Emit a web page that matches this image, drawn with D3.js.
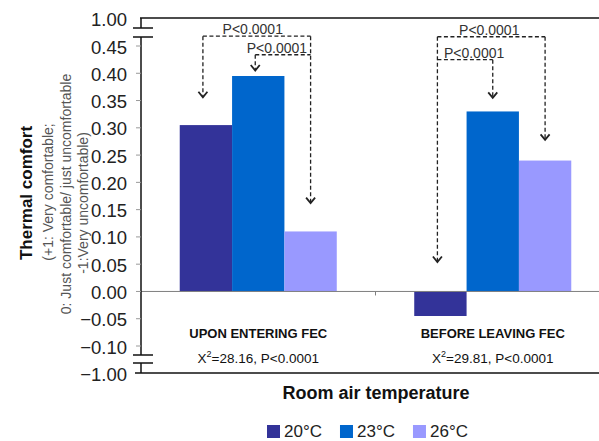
<!DOCTYPE html>
<html>
<head>
<meta charset="utf-8">
<script src="https://cdn.jsdelivr.net/npm/d3@7"></script>
<style>
  body { margin: 0; background: #fff; }
  svg { display: block; }
  text { font-family: "Liberation Sans", Arial, Helvetica, sans-serif; }
</style>
</head>
<body>
<svg id="chart" width="599" height="441"></svg>
<script>
// ---- data ----
const categories = ["UPON ENTERING FEC", "BEFORE LEAVING FEC"];
const chiSquare = ["28.16", "29.81"];
const chiP = ["P<0.0001", "P<0.0001"];
const series = ["20°C", "23°C", "26°C"];
const seriesColors = ["#333399", "#0066CC", "#9999FF"];
const values20 = [0.305, -0.045];
const values23 = [0.395, 0.33];
const values26 = [0.11, 0.24];
const yTickValues = [1.00, 0.45, 0.40, 0.35, 0.30, 0.25, 0.20, 0.15, 0.10, 0.05, 0.00, -0.05, -0.10, -1.00];

// significance brackets: category, two series, bracket level, arrow tip levels (null = shares a line)
const bracketCategory = [0, 0, 1, 1];
const bracketFrom = [0, 1, 0, 0];
const bracketTo = [2, 2, 2, 1];
const bracketLevel = [0.468, 0.434, 0.467, 0.425];
const bracketTipFrom = [0.356, 0.405, 0.054, null];
const bracketTipTo = [0.162, null, 0.278, 0.355];
const bracketLabel = ["P<0.0001", "P<0.0001", "P<0.0001", "P<0.0001"];
const bracketLabelShift = [-4, -6, -2, 9];

const valuesBySeries = [values20, values23, values26];

// ---- layout ----
const svg = d3.select("#chart");
const axisX = 141;
const plotRight = 610;
const topY = 18, bottomY = 373;

// broken value axis: -1 .. -0.10 and 0.45 .. 1 are compressed
const y = d3.scaleLinear()
  .domain([-1, -0.10, 0.45, 1])
  .range([bottomY, 346, 46, topY]);
// linear core of the axis, extended for annotation heights
const yCore = d3.scaleLinear().domain([-0.10, 0.45]).range([346, 46]);

const x0 = d3.scaleBand().domain(categories).range([axisX, plotRight]).paddingInner(0).paddingOuter(0);
const x1 = d3.scaleBand().domain(series).range([0, x0.bandwidth()]).paddingInner(0).paddingOuter(0.74);

const barCenter = (c, s) => x0(categories[c]) + x1(series[s]) + x1.bandwidth() / 2;

// ---- bars ----
const barData = [];
categories.forEach((cat, ci) => {
  series.forEach((s, si) => {
    barData.push({ cat, s, si, v: valuesBySeries[si][ci] });
  });
});
svg.append("g").selectAll("rect").data(barData).join("rect")
  .attr("x", d => x0(d.cat) + x1(d.s))
  .attr("width", x1.bandwidth())
  .attr("y", d => y(Math.max(0, d.v)))
  .attr("height", d => Math.abs(y(d.v) - y(0)))
  .attr("fill", (d) => seriesColors[d.si]);

// ---- zero line and category divider tick ----
svg.append("line")
  .attr("x1", axisX).attr("x2", 599)
  .attr("y1", y(0)).attr("y2", y(0))
  .attr("stroke", "#7f7f7f").attr("stroke-width", 1);
svg.append("line")
  .attr("x1", x0(categories[1])).attr("x2", x0(categories[1]))
  .attr("y1", y(0)).attr("y2", y(0) + 4)
  .attr("stroke", "#7f7f7f").attr("stroke-width", 1);

// ---- frame lines ----
svg.append("line").attr("x1", axisX - 1).attr("x2", 599).attr("y1", topY).attr("y2", topY)
  .attr("stroke", "#111").attr("stroke-width", 1.5);
svg.append("line").attr("x1", 135).attr("x2", 599).attr("y1", bottomY).attr("y2", bottomY)
  .attr("stroke", "#111").attr("stroke-width", 1.5);

// ---- value axis with breaks ----
const axisG = svg.append("g");
const axisSegments = [[topY, 28], [37, 355], [363, bottomY]];
axisSegments.forEach(([a, b]) => {
  axisG.append("line").attr("x1", axisX).attr("x2", axisX).attr("y1", a).attr("y2", b)
    .attr("stroke", "#111").attr("stroke-width", 1.5);
});
[28, 37, 355, 363].forEach(by => {
  axisG.append("line").attr("x1", 133).attr("x2", 153).attr("y1", by).attr("y2", by)
    .attr("stroke", "#111").attr("stroke-width", 1.5);
});
axisG.selectAll("line.tick").data(yTickValues.filter(v => Math.abs(v) < 1)).join("line")
  .attr("class", "tick")
  .attr("x1", 136).attr("x2", axisX)
  .attr("y1", d => y(d)).attr("y2", d => y(d))
  .attr("stroke", "#999").attr("stroke-width", 1);
axisG.selectAll("text").data(yTickValues).join("text")
  .attr("x", 127)
  .attr("y", d => y(d) + 1)
  .attr("text-anchor", "end")
  .attr("dominant-baseline", "central")
  .attr("font-size", 18.5)
  .attr("fill", "#222")
  .text(d => d3.format(".2f")(d));

// ---- axis titles ----
svg.append("text")
  .attr("transform", "translate(26,193) rotate(-90)")
  .attr("text-anchor", "middle").attr("dominant-baseline", "central")
  .attr("font-size", 17).attr("font-weight", "bold").attr("fill", "#111")
  .text("Thermal comfort");
const subLines = ["(+1: Very comfortable;", "0: Just comfortable/ just uncomfortable", "-1:Very uncomfortable)"];
const subX = [48, 66, 83];
const subY = [192, 194, 203];
subLines.forEach((t, i) => {
  svg.append("text")
    .attr("transform", `translate(${subX[i]},${subY[i]}) rotate(-90)`)
    .attr("text-anchor", "middle").attr("dominant-baseline", "central")
    .attr("font-size", 14).attr("fill", "#555")
    .text(t);
});

svg.append("text")
  .attr("x", 376).attr("y", 393)
  .attr("text-anchor", "middle").attr("dominant-baseline", "central")
  .attr("font-size", 18).attr("font-weight", "bold").attr("fill", "#111")
  .text("Room air temperature");

// ---- category labels and chi-square statistics ----
categories.forEach((cat, ci) => {
  const cx = x0(cat) + x0.bandwidth() / 2;
  svg.append("text")
    .attr("x", cx).attr("y", 333)
    .attr("text-anchor", "middle").attr("dominant-baseline", "central")
    .attr("font-size", 13).attr("font-weight", "bold").attr("fill", "#111")
    .text(cat);
  const t = svg.append("text")
    .attr("x", cx).attr("y", 363)
    .attr("text-anchor", "middle")
    .attr("font-size", 13.5).attr("fill", "#111");
  t.append("tspan").text("X");
  t.append("tspan").attr("dy", -6).attr("font-size", 9).text("2");
  t.append("tspan").attr("dy", 6).text(`=${chiSquare[ci]}, ${chiP[ci]}`);
});

// ---- significance brackets ----
const annG = svg.append("g")
  .attr("fill", "none").attr("stroke", "#222").attr("stroke-width", 1.3);
function drawArrow(xp, tipVal, level) {
  const ty = yCore(tipVal);
  annG.append("line").attr("x1", xp).attr("x2", xp)
    .attr("y1", yCore(level)).attr("y2", ty - 1)
    .attr("stroke-dasharray", "4,2.5");
  annG.append("path")
    .attr("d", `M${xp - 4.5},${ty - 5.5}L${xp},${ty}L${xp + 4.5},${ty - 5.5}`)
    .attr("stroke-width", 1.8);
}
bracketLevel.forEach((lvl, i) => {
  const c = bracketCategory[i];
  const xa = barCenter(c, bracketFrom[i]) - 3;
  const xb = barCenter(c, bracketTo[i]);
  const ly = yCore(lvl);
  annG.append("line").attr("x1", xa).attr("x2", xb).attr("y1", ly).attr("y2", ly)
    .attr("stroke-dasharray", "4,2.5");
  if (bracketTipFrom[i] !== null) drawArrow(xa, bracketTipFrom[i], lvl);
  if (bracketTipTo[i] !== null) drawArrow(xb, bracketTipTo[i], lvl);
  svg.append("text")
    .attr("x", (xa + xb) / 2 + bracketLabelShift[i]).attr("y", ly - 2)
    .attr("text-anchor", "middle")
    .attr("font-size", 14).attr("fill", "#333")
    .text(bracketLabel[i]);
});

// ---- legend ----
const legend = svg.append("g");
let lx = 267;
series.forEach((s, i) => {
  legend.append("rect").attr("x", lx).attr("y", 425).attr("width", 13).attr("height", 13)
    .attr("fill", seriesColors[i]);
  const t = legend.append("text").attr("x", lx + 17).attr("y", 431)
    .attr("dominant-baseline", "central")
    .attr("font-size", 17).attr("fill", "#222").text(s);
  lx += 17 + t.node().getComputedTextLength() + 18;
});
</script>
</body>
</html>
